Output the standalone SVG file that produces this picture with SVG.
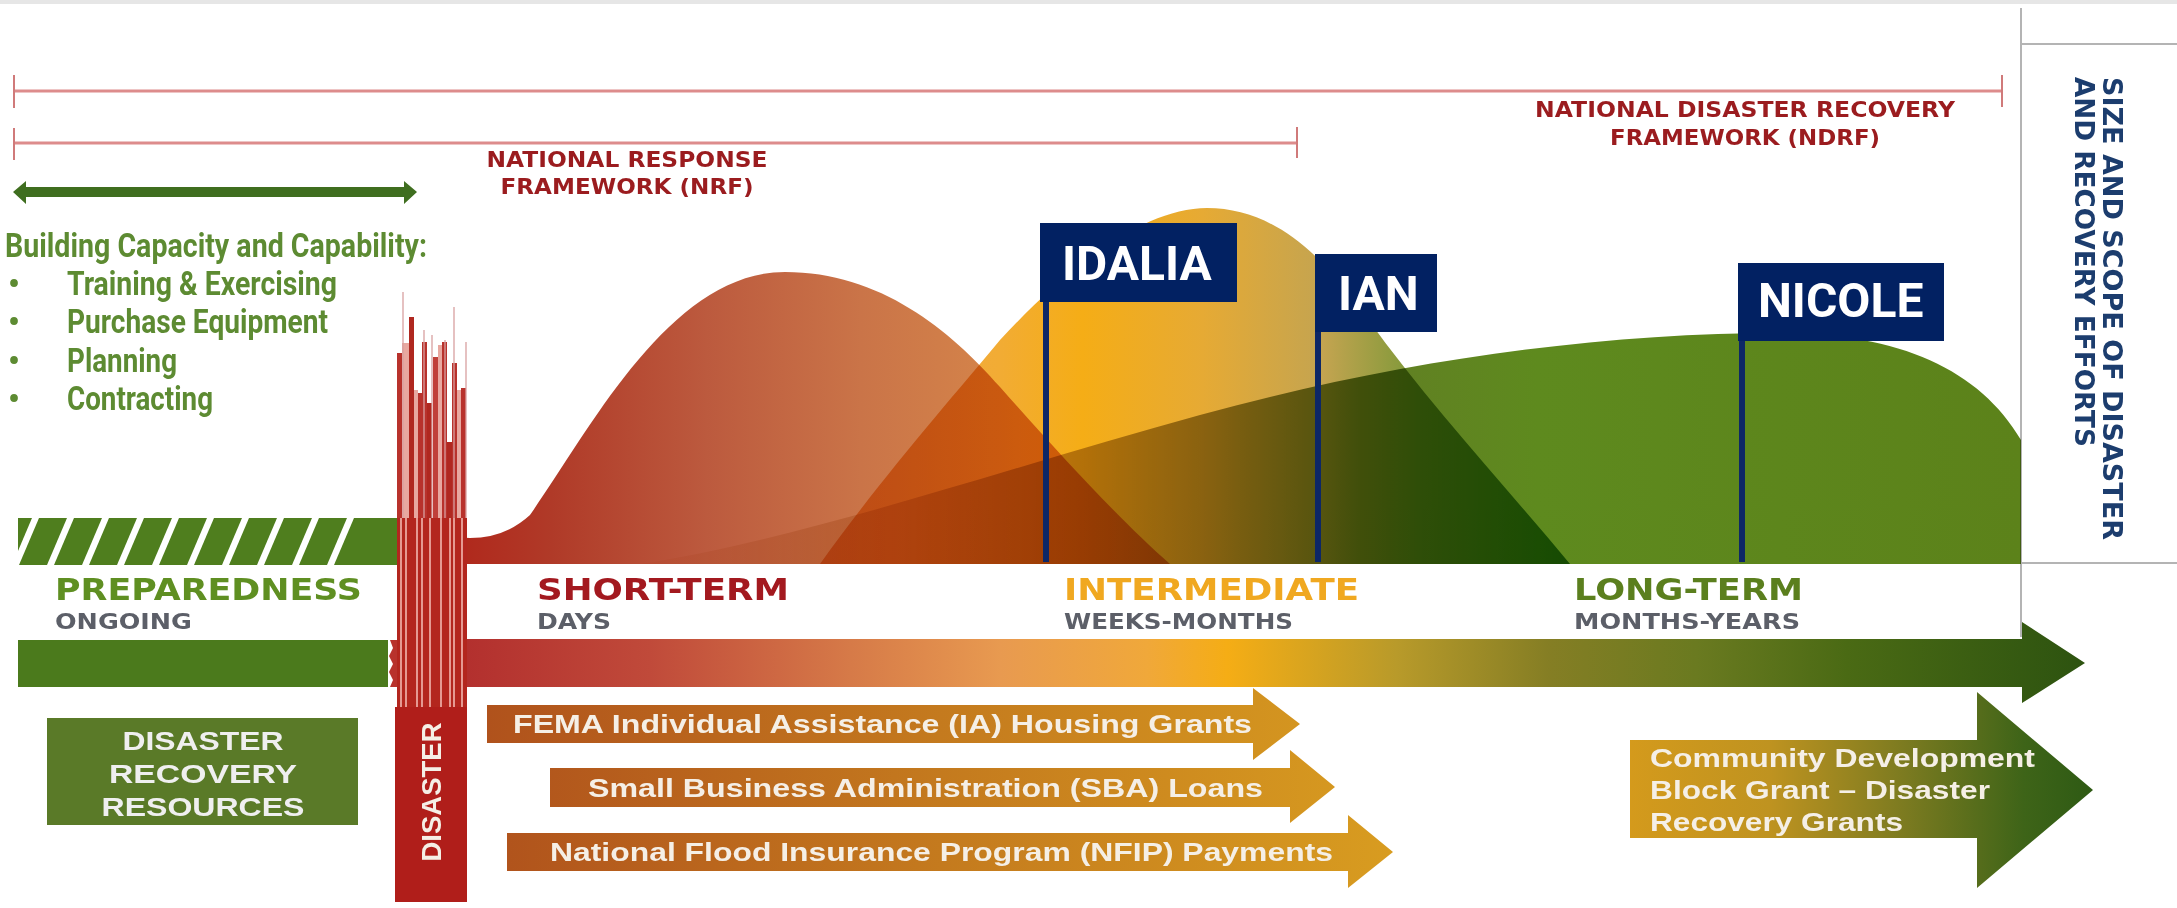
<svg xmlns="http://www.w3.org/2000/svg" width="2177" height="908" viewBox="0 0 2177 908">
<style>
.dv{font-family:"DejaVu Sans","Verdana",sans-serif;font-weight:bold}
.ar{font-family:"Liberation Sans",Arial,sans-serif;font-weight:bold}
.rb{font-family:Roboto,"Liberation Sans",sans-serif;font-weight:bold}
.grn{fill:#5d8b32}
.sub{fill:#5c5f68;font-size:21px}
.ph{font-size:30px}
.wt{fill:#f5efe6}
.fw{font-size:21px;fill:#9b1c1f}
.span{stroke:#dd8c8c;stroke-width:3;fill:none}
.tick{stroke:#d07a7a;stroke-width:2}
.flag{fill:#022162}
.pole{fill:#0d2766}
.gl{stroke:#b4b4b4;stroke-width:2}
.bar{stroke:none}
.mul{mix-blend-mode:multiply}
</style>
<defs>
<linearGradient id="gRed" gradientUnits="userSpaceOnUse" x1="397" y1="0" x2="1170" y2="0">
<stop offset="0" stop-color="#b01c14"/><stop offset="0.2" stop-color="#b03a28"/><stop offset="0.4" stop-color="#bc5a3e"/><stop offset="0.6" stop-color="#ca7448"/><stop offset="0.8" stop-color="#d6864a"/><stop offset="1" stop-color="#dc8a42"/>
</linearGradient>
<linearGradient id="gYel" gradientUnits="userSpaceOnUse" x1="820" y1="0" x2="1570" y2="0">
<stop offset="0" stop-color="#f0a850"/><stop offset="0.24" stop-color="#f2ac34"/><stop offset="0.35" stop-color="#f5ad16"/><stop offset="0.51" stop-color="#e6aa34"/><stop offset="0.67" stop-color="#c4a450"/><stop offset="0.8" stop-color="#7a9838"/><stop offset="1" stop-color="#3a8a10"/>
</linearGradient>
<linearGradient id="gGrn" gradientUnits="userSpaceOnUse" x1="640" y1="0" x2="2021" y2="0">
<stop offset="0" stop-color="#fffaf2"/><stop offset="0.19" stop-color="#e6ceA8"/><stop offset="0.3" stop-color="#c2aa62"/><stop offset="0.41" stop-color="#98924a"/><stop offset="0.52" stop-color="#627e24"/><stop offset="0.65" stop-color="#5e8a1e"/><stop offset="1" stop-color="#5c821a"/>
</linearGradient>
<linearGradient id="gMain" gradientUnits="userSpaceOnUse" x1="467" y1="0" x2="2085" y2="0">
<stop offset="0" stop-color="#b3302e"/><stop offset="0.113" stop-color="#c04a3a"/><stop offset="0.237" stop-color="#d67a48"/><stop offset="0.33" stop-color="#e89a50"/><stop offset="0.42" stop-color="#f0a83a"/><stop offset="0.47" stop-color="#f5ad15"/><stop offset="0.575" stop-color="#b89a2a"/><stop offset="0.668" stop-color="#857e24"/><stop offset="0.76" stop-color="#6a7a20"/><stop offset="0.853" stop-color="#4a6a14"/><stop offset="1" stop-color="#2d5310"/>
</linearGradient>
<linearGradient id="gFema" gradientUnits="userSpaceOnUse" x1="487" y1="0" x2="1393" y2="0">
<stop offset="0" stop-color="#b0521c"/><stop offset="0.5" stop-color="#c47a1e"/><stop offset="1" stop-color="#d89c20"/>
</linearGradient>
<linearGradient id="gCdbg" gradientUnits="userSpaceOnUse" x1="1630" y1="0" x2="2093" y2="0">
<stop offset="0" stop-color="#d49a1c"/><stop offset="0.3" stop-color="#bf9320"/><stop offset="0.6" stop-color="#7a7a20"/><stop offset="0.85" stop-color="#3e6418"/><stop offset="1" stop-color="#2e5a14"/>
</linearGradient>
<clipPath id="hatchClip"><rect x="18" y="518" width="379" height="47"/></clipPath>
</defs>

<rect x="0" y="0" width="2177" height="908" fill="#ffffff"/>
<rect x="0" y="0" width="2177" height="4" fill="#e6e6e6"/>

<!-- right panel -->
<g id="scope-panel">
<line class="gl" x1="2021" y1="8" x2="2021" y2="637"/>
<line class="gl" x1="2021" y1="44" x2="2177" y2="44"/>
<line class="gl" x1="2021" y1="563" x2="2177" y2="563"/>
<text class="dv" font-size="27" fill="#1c3d6e" transform="translate(2103 77) rotate(90)" textLength="463" lengthAdjust="spacingAndGlyphs">SIZE AND SCOPE OF DISASTER</text>
<text class="dv" font-size="27" fill="#1c3d6e" transform="translate(2075 77) rotate(90)" textLength="370" lengthAdjust="spacingAndGlyphs">AND RECOVERY EFFORTS</text>
</g>

<!-- humps -->
<g id="curves">
<path id="hump-short" fill="url(#gRed)" d="M397 518 Q430 537 470 538 Q505 538 530 515 C590 430 670 272 785 272 C880 272 950 330 1000 387 C1060 455 1120 520 1170 564 L397 564 Z"/>
<path id="hump-intermediate" class="mul" fill="url(#gYel)" d="M820 564 C880 480 950 400 1000 340 C1060 275 1140 208 1207 208 C1270 208 1320 250 1367 318 C1430 405 1500 480 1570 564 Z"/>
<path id="hump-long" class="mul" fill="url(#gGrn)" d="M640 564 C800 540 1000 470 1200 415 C1400 360 1600 333 1780 333 C1900 333 1980 370 2021 440 L2021 564 Z"/>
</g>

<!-- preparedness band -->
<g id="preparedness-band">
<rect x="18" y="518" width="379" height="47" fill="#4f7e1e"/>
<g clip-path="url(#hatchClip)" fill="#ffffff">
<polygon points="12,565 19,565 39,518 32,518"/>
<polygon points="47,565 54,565 74,518 67,518"/>
<polygon points="82,565 89,565 109,518 102,518"/>
<polygon points="117,565 124,565 144,518 137,518"/>
<polygon points="152,565 159,565 179,518 172,518"/>
<polygon points="187,565 194,565 214,518 207,518"/>
<polygon points="222,565 229,565 249,518 242,518"/>
<polygon points="257,565 264,565 284,518 277,518"/>
<polygon points="292,565 299,565 319,518 312,518"/>
<polygon points="327,565 334,565 354,518 347,518"/>
</g>
</g>

<!-- main timeline arrow -->
<g id="timeline">
<rect x="18" y="640" width="370" height="47" fill="#4b7a1c"/>
<polygon points="390,640 397,640 397,687 390,687 393,680 389,672 393,664 389,656 393,648" fill="#b8322c"/>
<polygon points="467,639 2022,639 2022,622 2085,663 2022,703 2022,687 467,687" fill="url(#gMain)"/>
</g>

<!-- disaster column -->
<g id="disaster">
<g class="bar">
<rect x="397" y="353" width="5" height="167" fill="#b8322c"/>
<rect x="402" y="343" width="7" height="177" fill="#e8a8a0"/>
<rect x="409" y="317" width="5" height="203" fill="#b02820"/>
<rect x="414" y="390" width="4" height="130" fill="#e8a8a0"/>
<rect x="418" y="393" width="5" height="127" fill="#b8322c"/>
<rect x="422" y="342" width="5" height="178" fill="#b8322c"/>
<rect x="427" y="403" width="5" height="117" fill="#b02820"/>
<rect x="433" y="357" width="5" height="163" fill="#c0403a"/>
<rect x="438" y="345" width="4" height="175" fill="#e8a8a0"/>
<rect x="442" y="342" width="5" height="178" fill="#b8322c"/>
<rect x="447" y="442" width="5" height="78" fill="#b02820"/>
<rect x="452" y="363" width="5" height="157" fill="#b8322c"/>
<rect x="457" y="390" width="4" height="130" fill="#e8a8a0"/>
<rect x="461" y="388" width="5" height="132" fill="#b8322c"/>
</g>
<g stroke="#d8a0a0" stroke-width="1.3">
<line x1="403" y1="292" x2="403" y2="520"/>
<line x1="424" y1="330" x2="424" y2="520"/>
<line x1="432" y1="335" x2="432" y2="520"/>
<line x1="445" y1="340" x2="445" y2="520"/>
<line x1="454" y1="307" x2="454" y2="520"/>
<line x1="466" y1="342" x2="466" y2="520"/>
</g>
<rect x="397" y="518" width="70" height="189" fill="#b3261e"/>
<g stroke="#f2b8b0" stroke-width="1.6">
<line x1="401" y1="518" x2="401" y2="707"/>
<line x1="406" y1="518" x2="406" y2="707"/>
<line x1="417" y1="518" x2="417" y2="707"/>
<line x1="422" y1="518" x2="422" y2="707"/>
<line x1="430" y1="518" x2="430" y2="707"/>
<line x1="441" y1="518" x2="441" y2="707"/>
<line x1="450" y1="518" x2="450" y2="707"/>
<line x1="454" y1="518" x2="454" y2="707"/>
<line x1="462" y1="518" x2="462" y2="707"/>
</g>
<rect x="395" y="707" width="72" height="195" fill="#b01e1a"/>
<text class="ar wt" font-size="28" text-anchor="middle" transform="translate(441 792) rotate(-90)" textLength="139" lengthAdjust="spacingAndGlyphs">DISASTER</text>
</g>

<!-- connectors: framework spans and capacity arrow -->
<g id="connectors">
<line class="span" x1="14" y1="91" x2="2002" y2="91"/>
<line class="tick" x1="14" y1="75" x2="14" y2="108"/>
<line class="tick" x1="2002" y1="75" x2="2002" y2="107"/>
<line class="span" x1="14" y1="143" x2="1297" y2="143"/>
<line class="tick" x1="14" y1="128" x2="14" y2="160"/>
<line class="tick" x1="1297" y1="127" x2="1297" y2="158"/>
<polygon points="13,192 26,181 26,187 404,187 404,181 417,192 404,204 404,197 26,197 26,204" fill="#3f6e1f"/>
</g>

<g id="nrf-label">
<text class="dv fw" x="627" y="167" text-anchor="middle" textLength="281" lengthAdjust="spacingAndGlyphs">NATIONAL RESPONSE</text>
<text class="dv fw" x="627" y="194" text-anchor="middle" textLength="253" lengthAdjust="spacingAndGlyphs">FRAMEWORK (NRF)</text>
</g>
<g id="ndrf-label">
<text class="dv fw" x="1745" y="117" text-anchor="middle" textLength="420" lengthAdjust="spacingAndGlyphs">NATIONAL DISASTER RECOVERY</text>
<text class="dv fw" x="1745" y="145" text-anchor="middle" textLength="270" lengthAdjust="spacingAndGlyphs">FRAMEWORK (NDRF)</text>
</g>

<g id="capacity-list" class="rb grn" font-size="33">
<text x="5" y="257" textLength="422" lengthAdjust="spacingAndGlyphs">Building Capacity and Capability:</text>
<text x="8" y="295">•</text>
<text x="67" y="295" textLength="270" lengthAdjust="spacingAndGlyphs">Training &amp; Exercising</text>
<text x="8" y="333">•</text>
<text x="67" y="333" textLength="261" lengthAdjust="spacingAndGlyphs">Purchase Equipment</text>
<text x="8" y="372">•</text>
<text x="67" y="372" textLength="110" lengthAdjust="spacingAndGlyphs">Planning</text>
<text x="8" y="410">•</text>
<text x="67" y="410" textLength="146" lengthAdjust="spacingAndGlyphs">Contracting</text>
</g>

<!-- phase labels -->
<g id="phase-preparedness" class="dv">
<text class="ph" x="55" y="600" fill="#5f8f22" textLength="307" lengthAdjust="spacingAndGlyphs">PREPAREDNESS</text>
<text class="sub" x="55" y="629" textLength="137" lengthAdjust="spacingAndGlyphs">ONGOING</text>
</g>
<g id="phase-short" class="dv">
<text class="ph" x="537" y="600" fill="#a3191f" textLength="252" lengthAdjust="spacingAndGlyphs">SHORT-TERM</text>
<text class="sub" x="537" y="629" textLength="74" lengthAdjust="spacingAndGlyphs">DAYS</text>
</g>
<g id="phase-intermediate" class="dv">
<text class="ph" x="1064" y="600" fill="#f0a820" textLength="295" lengthAdjust="spacingAndGlyphs">INTERMEDIATE</text>
<text class="sub" x="1064" y="629" textLength="229" lengthAdjust="spacingAndGlyphs">WEEKS-MONTHS</text>
</g>
<g id="phase-long" class="dv">
<text class="ph" x="1574" y="600" fill="#5b7f1e" textLength="229" lengthAdjust="spacingAndGlyphs">LONG-TERM</text>
<text class="sub" x="1574" y="629" textLength="226" lengthAdjust="spacingAndGlyphs">MONTHS-YEARS</text>
</g>

<!-- storm flags -->
<g id="flag-idalia">
<rect class="pole" x="1043" y="300" width="6" height="262"/>
<rect class="flag" x="1040" y="223" width="197" height="79"/>
<text class="rb" x="1062" y="280" font-size="48" fill="#ffffff">IDALIA</text>
</g>
<g id="flag-ian">
<rect class="pole" x="1315" y="330" width="6" height="232"/>
<rect class="flag" x="1315" y="254" width="122" height="78"/>
<text class="rb" x="1338" y="310" font-size="48" fill="#ffffff">IAN</text>
</g>
<g id="flag-nicole">
<rect class="pole" x="1739" y="339" width="6" height="223"/>
<rect class="flag" x="1738" y="263" width="206" height="78"/>
<text class="rb" x="1758" y="317" font-size="48" fill="#ffffff">NICOLE</text>
</g>

<!-- resources -->
<g id="drr-box">
<rect x="47" y="718" width="311" height="107" fill="#5a7a28"/>
<text class="ar" font-size="26" fill="#efefef" text-anchor="middle" x="203" y="750" textLength="161" lengthAdjust="spacingAndGlyphs">DISASTER</text>
<text class="ar" font-size="26" fill="#efefef" text-anchor="middle" x="203" y="783" textLength="188" lengthAdjust="spacingAndGlyphs">RECOVERY</text>
<text class="ar" font-size="26" fill="#efefef" text-anchor="middle" x="203" y="816" textLength="203" lengthAdjust="spacingAndGlyphs">RESOURCES</text>
</g>

<g id="arrow-fema">
<polygon points="487,705 1253,705 1253,688 1300,724 1253,760 1253,743 487,743" fill="url(#gFema)"/>
<text class="ar wt" font-size="26" x="513" y="733" textLength="739" lengthAdjust="spacingAndGlyphs">FEMA Individual Assistance (IA) Housing Grants</text>
</g>
<g id="arrow-sba">
<polygon points="550,768 1290,768 1290,750 1335,787 1290,823 1290,807 550,807" fill="url(#gFema)"/>
<text class="ar wt" font-size="26" x="588" y="797" textLength="675" lengthAdjust="spacingAndGlyphs">Small Business Administration (SBA) Loans</text>
</g>
<g id="arrow-nfip">
<polygon points="507,833 1348,833 1348,815 1393,852 1348,888 1348,871 507,871" fill="url(#gFema)"/>
<text class="ar wt" font-size="26" x="550" y="861" textLength="783" lengthAdjust="spacingAndGlyphs">National Flood Insurance Program (NFIP) Payments</text>
</g>
<g id="arrow-cdbg">
<polygon points="1630,740 1977,740 1977,692 2093,790 1977,888 1977,838 1630,838" fill="url(#gCdbg)"/>
<text class="ar wt" font-size="26" x="1650" y="767" textLength="385" lengthAdjust="spacingAndGlyphs">Community Development</text>
<text class="ar wt" font-size="26" x="1650" y="799" textLength="340" lengthAdjust="spacingAndGlyphs">Block Grant – Disaster</text>
<text class="ar wt" font-size="26" x="1650" y="831" textLength="253" lengthAdjust="spacingAndGlyphs">Recovery Grants</text>
</g>
</svg>
